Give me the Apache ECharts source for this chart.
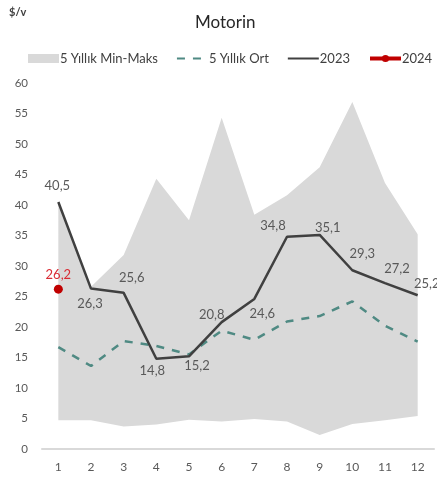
<!DOCTYPE html>
<html><head><meta charset="utf-8">
<script src="https://cdn.jsdelivr.net/npm/echarts@6/dist/echarts.min.js"></script>
<style>html,body{margin:0;padding:0;background:#fff}#c{width:437px;height:481px}</style>
</head><body><div id="c"></div>
<script>
var months = ['1','2','3','4','5','6','7','8','9','10','11','12'];
var minVals = [4.7, 4.7, 3.7, 4.0, 4.8, 4.5, 4.9, 4.5, 2.3, 4.1, 4.7, 5.4];
var maxVals = [40.5, 26.6, 31.8, 44.3, 37.5, 54.3, 38.4, 41.6, 46.2, 56.9, 43.6, 35.2];
var avgVals = [16.7, 13.6, 17.7, 16.9, 15.5, 19.4, 17.9, 20.9, 21.8, 24.2, 20.2, 17.6];
var y2023 = [40.5, 26.3, 25.6, 14.8, 15.2, 20.8, 24.6, 34.8, 35.1, 29.3, 27.2, 25.2];
var y2024 = [26.2];
var yTicks = [0, 5, 10, 15, 20, 25, 30, 35, 40, 45, 50, 55, 60];

// label offsets (style only)
var lblOff = [[-1,-5],[-1,4],[8,-4],[-4,1],[8,-2],[-10,4],[8,3],[-14,1],[8,4],[10,-5],[12,-3],[9,0]];
var lblPos = ['top','bottom','top','bottom','bottom','top','bottom','top','top','top','top','top'];

var font = 'Lato, "Open Sans", sans-serif';
var bandDiff = maxVals.map(function(v,i){return +(v - minVals[i]).toFixed(2);});
var d2023 = y2023.map(function(v,i){
  return {value:v, label:{position:lblPos[i], offset:lblOff[i]}};
});
var fmt = function(p){return String(p.value).replace('.',',');};

var chart = echarts.init(document.getElementById('c'), null, {renderer:'canvas'});
chart.setOption({
  animation:false,
  textStyle:{fontFamily:font},
  title:[
    {text:'Motorin', left:190, top:9, textStyle:{fontSize:17, fontWeight:'normal', color:'#262626', fontFamily:font}},
    {text:'$/v', left:4, top:2, textStyle:{fontSize:11, fontWeight:'bold', color:'#404040', fontFamily:font}}
  ],
  legend:{
    top:47, left:28, width:409, padding:[5,0,5,0], itemWidth:31, itemHeight:9, itemGap:18,
    textStyle:{fontSize:13, color:'#404040', fontFamily:font, padding:[0,0,0,-4]},
    data:[
      {name:'5 Yıllık Min-Maks', icon:'rect'},
      {name:'5 Yıllık Ort', itemStyle:{opacity:0}},
      {name:'2023', itemStyle:{opacity:0}},
      {name:'2024', lineStyle:{width:4}}
    ]
  },
  grid:{left:42, right:3, top:83, bottom:32},
  xAxis:{
    type:'category', data:months, boundaryGap:true,
    axisLine:{lineStyle:{color:'#d9d9d9', width:2}},
    axisTick:{show:false},
    axisLabel:{color:'#595959', fontSize:12, margin:12, fontFamily:font}
  },
  yAxis:{
    type:'value', min:yTicks[0], max:yTicks[yTicks.length-1], interval:5,
    axisLine:{show:false}, axisTick:{show:false}, splitLine:{show:false},
    axisLabel:{color:'#595959', fontSize:11.5, margin:14, fontFamily:font}
  },
  series:[
    {name:'min', type:'line', stack:'band', data:minVals, symbol:'none', silent:true,
     lineStyle:{opacity:0}, areaStyle:{opacity:0}},
    {name:'5 Yıllık Min-Maks', type:'line', stack:'band', data:bandDiff, symbol:'none', silent:true,
     itemStyle:{color:'#d9d9d9'}, lineStyle:{opacity:0, width:0}, areaStyle:{color:'#d9d9d9', opacity:1}},
    {name:'5 Yıllık Ort', type:'line', data:avgVals, symbol:'none',
     itemStyle:{color:'#4f8a83'}, lineStyle:{color:'#4f8a83', width:2.5, type:[8,8]}},
    {name:'2023', type:'line', data:d2023, symbol:'circle', symbolSize:0, showSymbol:true,
     itemStyle:{color:'#404040'}, lineStyle:{color:'#404040', width:2.5},
     label:{show:true, fontSize:13, color:'#595959', fontFamily:font, formatter:fmt}},
    {name:'2024', type:'line', data:y2024, symbol:'circle', symbolSize:9,
     itemStyle:{color:'#c00000'}, lineStyle:{color:'#c00000', width:3.5},
     label:{show:true, position:'top', offset:[0,2], fontSize:13, color:'#d92b34', fontFamily:font, formatter:fmt}}
  ]
});
</script></body></html>
